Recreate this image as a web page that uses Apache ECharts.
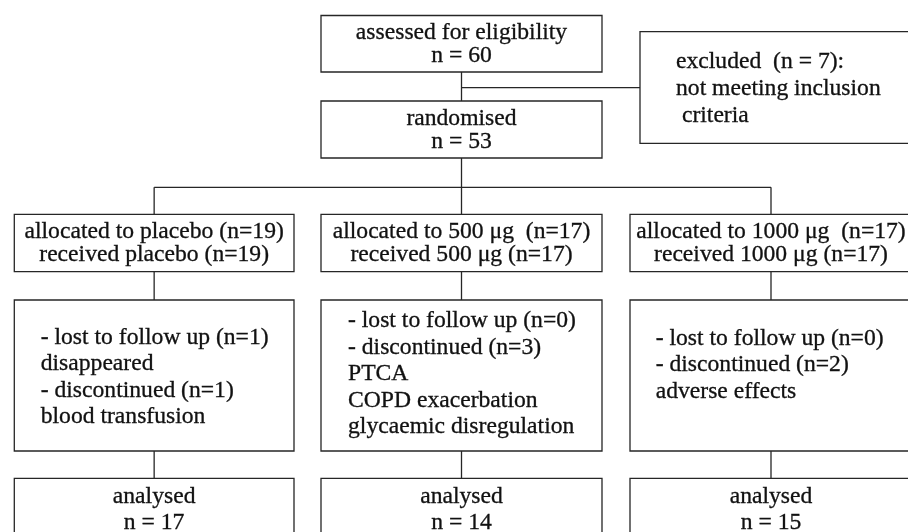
<!DOCTYPE html>
<html>
<head>
<meta charset="utf-8">
<script src="https://cdn.jsdelivr.net/npm/echarts@6/dist/echarts.min.js"></script>
<style>
	html, body { margin: 0; padding: 0; background: #fff; }
	#chart { width: 908px; height: 532px; }
</style>
</head>
<body>
<div id="chart"></div>
<script>
// 数据
let screenSteps = ['assessed for eligibility', 'randomised']
let screenN = [60, 53]
let excludedN = 7
let excludedReason = ['not meeting inclusion', ' criteria']
let arms = ['placebo', '500 μg', '1000 μg']
let allocatedN = [19, 17, 17]
let receivedN = [19, 17, 17]
let lostN = [1, 0, 0]
let lostReasons = [['disappeared'], [], []]
let discontinuedN = [1, 3, 2]
let discontinuedReasons = [
	['blood transfusion'],
	['PTCA', 'COPD exacerbation', 'glycaemic disregulation'],
	['adverse effects']
]
let analysedN = [17, 14, 15]

// 布局
let FS = 22.5
let SX = 1.05
let font = `${FS}px "Liberation Serif", "Times New Roman", serif`
let stroke = '#262626'
let colX = [[14.3, 294], [321, 602], [630, 912]]
let colMid = colX.map(c => (c[0] + c[1]) / 2)
let rowY = {
	assess: [15.5, 72],
	rand: [101, 158],
	branch: 187.3,
	alloc: [214.3, 271.7],
	follow: [300, 451],
	analysed: [478.3, 545]
}
let excludedBox = { x: [640, 912], y: [31.7, 143.3], left: 676, base: [69.5, 96.3, 122.8] }
let followLeft = [40.7, 348, 655.7]
let followBase = [344.8, 328.3, 345.8]
let gap = 26.6

let els = []

let rect = (x, y) => {
	els.push({
		type: 'rect',
		shape: { x: x[0], y: y[0], width: x[1] - x[0], height: y[1] - y[0] },
		style: { fill: '#fff', stroke: stroke, lineWidth: 1.3 }
	})
}
let line = (x1, y1, x2, y2) => {
	els.push({
		type: 'line',
		shape: { x1, y1, x2, y2 },
		style: { stroke: stroke, lineWidth: 1.3 }
	})
}
// baseline -> middle
let text = (str, x, base, align) => {
	els.push({
		type: 'text',
		x: x,
		y: base - FS * 0.32,
		scaleX: SX,
		z: 10,
		style: {
			text: str, x: 0, y: 0, fill: '#111', stroke: '#111', lineWidth: 0.3,
			font: font, align: align || 'center', verticalAlign: 'middle'
		}
	})
}

// 连线
let cx = colMid[1]
let exY = (rowY.assess[1] + rowY.rand[0]) / 2 + 1.2
line(cx, rowY.assess[1], cx, rowY.rand[0])
line(cx, exY, excludedBox.x[0], exY)
line(cx, rowY.rand[1], cx, rowY.branch)
line(colMid[0], rowY.branch, colMid[2], rowY.branch)
colMid.forEach(m => {
	line(m, rowY.branch, m, rowY.alloc[0])
	line(m, rowY.alloc[1], m, rowY.follow[0])
	line(m, rowY.follow[1], m, rowY.analysed[0])
})

// 筛选
rect(colX[1], rowY.assess)
text(screenSteps[0], cx, 40.5)
text(`n = ${screenN[0]}`, cx, 63)
rect(colX[1], rowY.rand)
text(screenSteps[1], cx, 126.3)
text(`n = ${screenN[1]}`, cx, 149.5)

rect(excludedBox.x, excludedBox.y)
let exLines = [`excluded  (n = ${excludedN}):`, ...excludedReason]
exLines.forEach((s, i) => text(s, excludedBox.left, excludedBox.base[i], 'left'))

// 分组
arms.forEach((arm, i) => {
	let sep = arm.includes('μg') ? '  ' : ' '
	rect(colX[i], rowY.alloc)
	text(`allocated to ${arm}${sep}(n=${allocatedN[i]})`, colMid[i], 239.3)
	text(`received ${arm} (n=${receivedN[i]})`, colMid[i], 261.8)

	rect(colX[i], rowY.follow)
	let lines = [`- lost to follow up (n=${lostN[i]})`, ...lostReasons[i],
		`- discontinued (n=${discontinuedN[i]})`, ...discontinuedReasons[i]]
	lines.forEach((s, k) => text(s, followLeft[i], followBase[i] + k * gap, 'left'))

	rect(colX[i], rowY.analysed)
	text('analysed', colMid[i], 504.5)
	text(`n = ${analysedN[i]}`, colMid[i], 529.8)
})

let myChart = echarts.init(document.querySelector('#chart'), null, { renderer: 'canvas' })
myChart.setOption({
	backgroundColor: '#fff',
	animation: false,
	graphic: { elements: els }
})
</script>
</body>
</html>
